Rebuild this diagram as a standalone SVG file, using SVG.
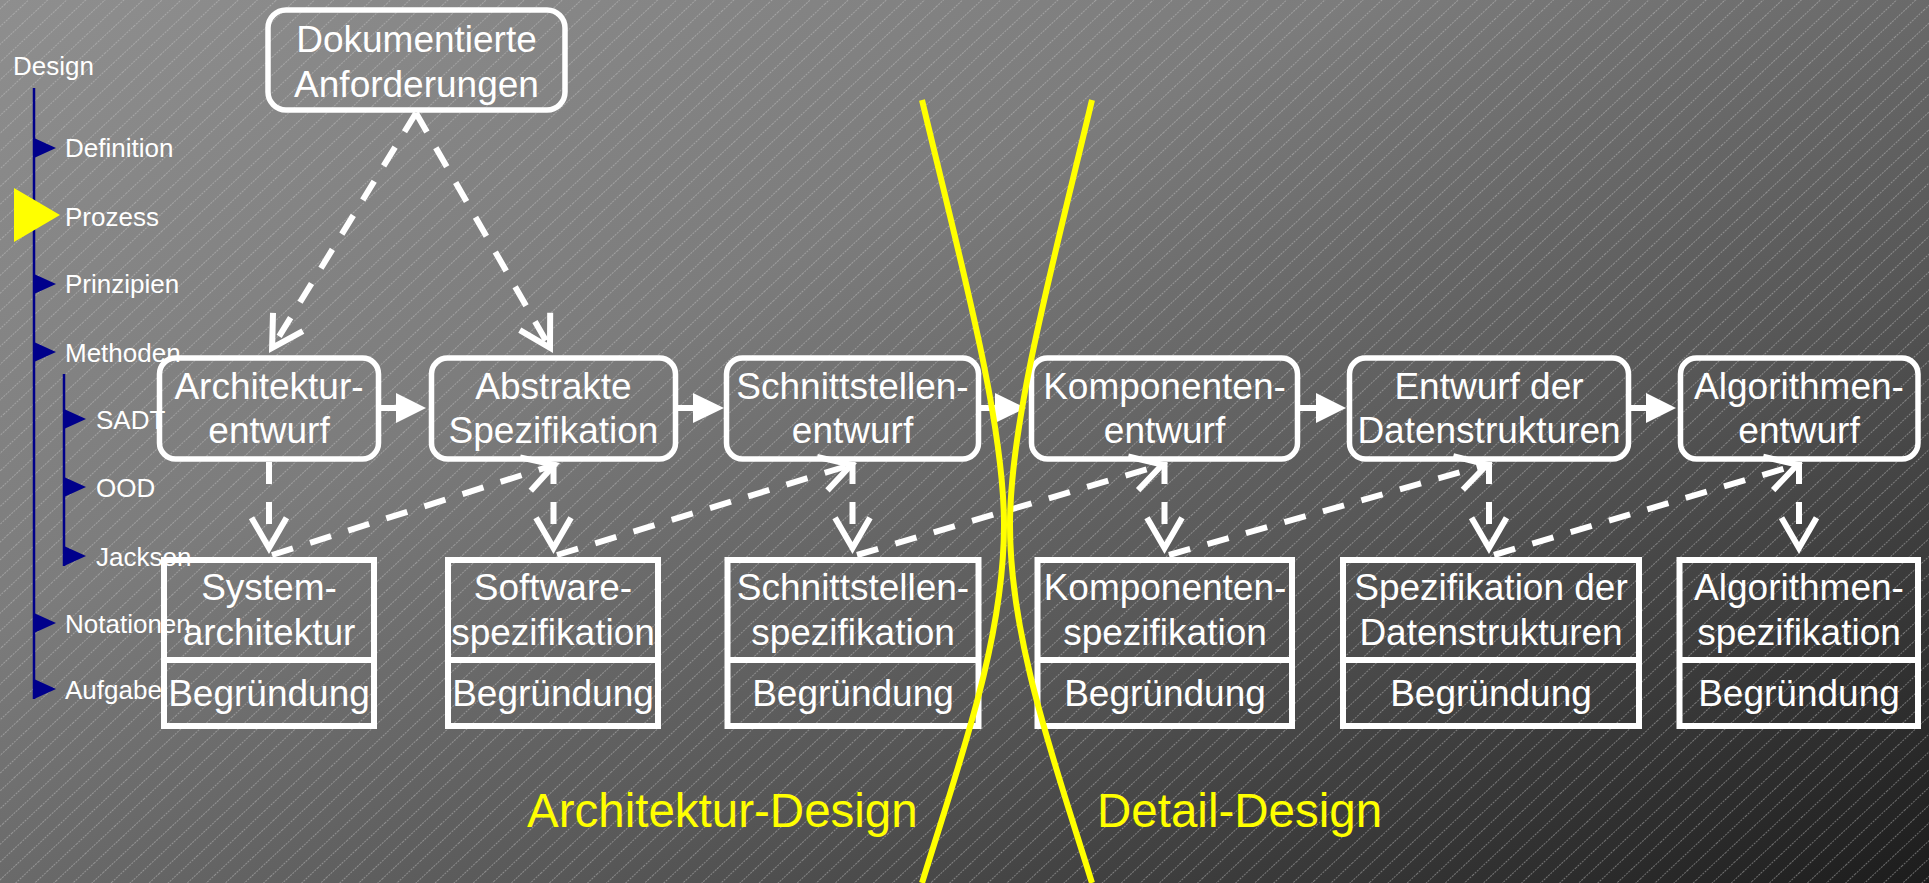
<svg xmlns="http://www.w3.org/2000/svg" width="1929" height="883" viewBox="0 0 1929 883">
  <defs>
    <linearGradient id="bg" x1="0" y1="0" x2="1" y2="1">
      <stop offset="0" stop-color="#8e8e8e"/>
      <stop offset="0.35" stop-color="#7c7c7c"/>
      <stop offset="0.65" stop-color="#575757"/>
      <stop offset="1" stop-color="#1c1c1c"/>
    </linearGradient>
    <pattern id="hatch" patternUnits="userSpaceOnUse" width="40" height="13" patternTransform="rotate(-43)">
      <line x1="0" y1="6.5" x2="40" y2="6.5" stroke="#c8c8c8" stroke-width="1" stroke-opacity="0.45" stroke-dasharray="2 1"/>
    </pattern>
    <marker id="vhead" markerUnits="userSpaceOnUse" viewBox="-40 -25 50 50" refX="0" refY="0" markerWidth="50" markerHeight="50" orient="auto" overflow="visible">
      <path d="M-30.3,-17.5 L0,0 L-30.3,17.5" fill="none" stroke="#ffffff" stroke-width="6" stroke-dasharray="none" stroke-linejoin="miter"/>
    </marker>
    <style>
      .nav { font-family: "Liberation Sans", Arial, sans-serif; font-size: 26px; fill: #ffffff; }
      .lbl { font-family: "Liberation Sans", Arial, sans-serif; font-size: 37px; fill: #ffffff; text-anchor: middle; }
      .zone { font-family: "Liberation Sans", Arial, sans-serif; font-size: 47.5px; fill: #ffff00; }
      .rbox { fill: none; stroke: #ffffff; stroke-width: 5.5; }
      .sbox { fill: none; stroke: #ffffff; stroke-width: 6; }
      .dash { fill: none; stroke: #ffffff; stroke-width: 6; stroke-dasharray: 22 18; marker-end: url(#vhead); }
      .shaft { stroke: #ffffff; stroke-width: 6; }
      .head { fill: #ffffff; }
      .navline { stroke: #00008b; stroke-width: 2.5; }
      .navtri { fill: #00008b; }
      .curve { fill: none; stroke: #ffff00; stroke-width: 6; }
    </style>
  </defs>

  <g id="background">
    <rect x="0" y="0" width="1929" height="883" fill="url(#bg)"/>
    <rect x="0" y="0" width="1929" height="883" fill="url(#hatch)"/>
  </g>

  <g id="nav">
    <text class="nav" x="13" y="75">Design</text>
    <line class="navline" x1="34" y1="88" x2="34" y2="699"/>
    <line class="navline" x1="64" y1="374" x2="64" y2="566"/>
    <polygon class="navtri" points="34,138 56,148 34,158"/>
    <text class="nav" x="65" y="157">Definition</text>
    <polygon fill="#ffff00" points="14,188 60,215 14,242"/>
    <text class="nav" x="65" y="226">Prozess</text>
    <polygon class="navtri" points="34,274 56,284 34,294"/>
    <text class="nav" x="65" y="293">Prinzipien</text>
    <polygon class="navtri" points="34,342 56,352 34,362"/>
    <text class="nav" x="65" y="362">Methoden</text>
    <polygon class="navtri" points="64,409 86,419 64,429"/>
    <text class="nav" x="96" y="429">SADT</text>
    <polygon class="navtri" points="64,477 86,487 64,497"/>
    <text class="nav" x="96" y="497">OOD</text>
    <polygon class="navtri" points="64,546 86,556 64,566"/>
    <text class="nav" x="96" y="566">Jackson</text>
    <polygon class="navtri" points="34,613 56,623 34,633"/>
    <text class="nav" x="65" y="633">Notationen</text>
    <polygon class="navtri" points="34,679 56,689 34,699"/>
    <text class="nav" x="65" y="699">Aufgabe</text>
  </g>

  <g id="node-anforderungen">
    <rect class="rbox" x="268" y="10" width="297" height="100" rx="18"/>
    <text class="lbl" x="416.5" y="52">Dokumentierte</text>
    <text class="lbl" x="416.5" y="97">Anforderungen</text>
  </g>

  <g id="node-architekturentwurf">
    <rect class="rbox" x="159.5" y="358" width="219" height="101" rx="16"/>
    <text class="lbl" x="269" y="399">Architektur-</text>
    <text class="lbl" x="269" y="443">entwurf</text>
  </g>
  <g id="node-abstrakte-spezifikation">
    <rect class="rbox" x="431.5" y="358" width="244" height="101" rx="16"/>
    <text class="lbl" x="553.5" y="399">Abstrakte</text>
    <text class="lbl" x="553.5" y="443">Spezifikation</text>
  </g>
  <g id="node-schnittstellenentwurf">
    <rect class="rbox" x="726.5" y="358" width="252" height="101" rx="16"/>
    <text class="lbl" x="852.5" y="399">Schnittstellen-</text>
    <text class="lbl" x="852.5" y="443">entwurf</text>
  </g>
  <g id="node-komponentenentwurf">
    <rect class="rbox" x="1031.5" y="358" width="266" height="101" rx="16"/>
    <text class="lbl" x="1164.5" y="399">Komponenten-</text>
    <text class="lbl" x="1164.5" y="443">entwurf</text>
  </g>
  <g id="node-datenstrukturentwurf">
    <rect class="rbox" x="1349.5" y="358" width="279" height="101" rx="16"/>
    <text class="lbl" x="1489" y="399">Entwurf der</text>
    <text class="lbl" x="1489" y="443">Datenstrukturen</text>
  </g>
  <g id="node-algorithmenentwurf">
    <rect class="rbox" x="1680.5" y="358" width="237.5" height="101" rx="16"/>
    <text class="lbl" x="1799" y="399">Algorithmen-</text>
    <text class="lbl" x="1799" y="443">entwurf</text>
  </g>

  <g id="node-systemarchitektur">
    <rect class="sbox" x="164" y="560" width="210" height="166"/>
    <line class="sbox" x1="164" y1="660" x2="374" y2="660"/>
    <text class="lbl" x="269" y="600">System-</text>
    <text class="lbl" x="269" y="645">architektur</text>
    <text class="lbl" x="269" y="706">Begründung</text>
  </g>
  <g id="node-softwarespezifikation">
    <rect class="sbox" x="448" y="560" width="210" height="166"/>
    <line class="sbox" x1="448" y1="660" x2="658" y2="660"/>
    <text class="lbl" x="553" y="600">Software-</text>
    <text class="lbl" x="553" y="645">spezifikation</text>
    <text class="lbl" x="553" y="706">Begründung</text>
  </g>
  <g id="node-schnittstellenspezifikation">
    <rect class="sbox" x="727.5" y="560" width="251" height="166"/>
    <line class="sbox" x1="727.5" y1="660" x2="978.5" y2="660"/>
    <text class="lbl" x="853" y="600">Schnittstellen-</text>
    <text class="lbl" x="853" y="645">spezifikation</text>
    <text class="lbl" x="853" y="706">Begründung</text>
  </g>
  <g id="node-komponentenspezifikation">
    <rect class="sbox" x="1037.5" y="560" width="254.5" height="166"/>
    <line class="sbox" x1="1037.5" y1="660" x2="1292" y2="660"/>
    <text class="lbl" x="1165" y="600">Komponenten-</text>
    <text class="lbl" x="1165" y="645">spezifikation</text>
    <text class="lbl" x="1165" y="706">Begründung</text>
  </g>
  <g id="node-datenstrukturspezifikation">
    <rect class="sbox" x="1343" y="560" width="296" height="166"/>
    <line class="sbox" x1="1343" y1="660" x2="1639" y2="660"/>
    <text class="lbl" x="1491" y="600">Spezifikation der</text>
    <text class="lbl" x="1491" y="645">Datenstrukturen</text>
    <text class="lbl" x="1491" y="706">Begründung</text>
  </g>
  <g id="node-algorithmenspezifikation">
    <rect class="sbox" x="1679.5" y="560" width="238.5" height="166"/>
    <line class="sbox" x1="1679.5" y1="660" x2="1918" y2="660"/>
    <text class="lbl" x="1799" y="600">Algorithmen-</text>
    <text class="lbl" x="1799" y="645">spezifikation</text>
    <text class="lbl" x="1799" y="706">Begründung</text>
  </g>

  <g id="connectors">
    <!-- from Dokumentierte Anforderungen -->
    <line class="dash" x1="416" y1="113" x2="272.1" y2="347.9"/>
    <line class="dash" x1="416" y1="113" x2="550" y2="347.8"/>
    <!-- solid process arrows -->
    <line class="shaft" x1="381" y1="408" x2="398" y2="408"/>
    <polygon class="head" points="396,393 426,408 396,423"/>
    <line class="shaft" x1="678" y1="408" x2="695" y2="408"/>
    <polygon class="head" points="693,393 724,408 693,423"/>
    <line class="shaft" x1="981" y1="408" x2="997" y2="408"/>
    <polygon class="head" points="995,393 1026,408 995,423"/>
    <line class="shaft" x1="1300" y1="408" x2="1318" y2="408"/>
    <polygon class="head" points="1316,393 1346,408 1316,423"/>
    <line class="shaft" x1="1631" y1="408" x2="1648" y2="408"/>
    <polygon class="head" points="1646,393 1676,408 1646,423"/>
    <!-- vertical dashed: design step to its document -->
    <line class="dash" x1="269" y1="462" x2="269" y2="548"/>
    <line class="dash" x1="553.5" y1="462" x2="553.5" y2="548"/>
    <line class="dash" x1="852.5" y1="462" x2="852.5" y2="548"/>
    <line class="dash" x1="1164.5" y1="462" x2="1164.5" y2="548"/>
    <line class="dash" x1="1489" y1="462" x2="1489" y2="548"/>
    <line class="dash" x1="1799" y1="462" x2="1799" y2="548"/>
    <!-- diagonal dashed: document feeds next step -->
    <line class="dash" x1="272" y1="555" x2="554.3" y2="464.8"/>
    <line class="dash" x1="557" y1="555" x2="851.3" y2="464.8"/>
    <line class="dash" x1="857" y1="555" x2="1162.2" y2="464.7"/>
    <line class="dash" x1="1169" y1="555" x2="1487.2" y2="464.6"/>
    <line class="dash" x1="1494" y1="555" x2="1797.2" y2="464.7"/>
  </g>

  <g id="phase-divider">
    <path class="curve" d="M922,100 C960,260 1004,420 1004,525 C1004,640 960,760 922,883"/>
    <path class="curve" d="M1092,100 C1054,260 1010,420 1010,525 C1010,640 1054,760 1092,883"/>
    <text class="zone" x="527" y="827">Architektur-Design</text>
    <text class="zone" x="1097" y="827">Detail-Design</text>
  </g>
</svg>
